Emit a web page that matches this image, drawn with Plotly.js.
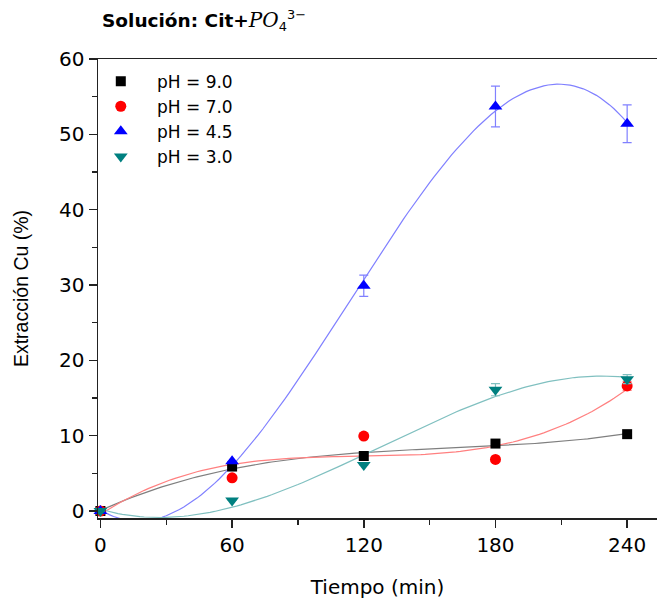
<!DOCTYPE html>
<html>
<head>
<meta charset="utf-8">
<script src="https://cdn.plot.ly/plotly-3.0.1.min.js"></script>
<style>html,body{margin:0;padding:0;background:#fff;}</style>
</head>
<body>
<div id="chart" style="width:657px;height:607px;"></div>
<script>
// Data
const tiempo = [0, 60, 120, 180, 240];
const seriesNames = ["pH = 9.0", "pH = 7.0", "pH = 4.5", "pH = 3.0"];
const ph90 = [0, 5.9, 7.3, 8.95, 10.2];
const ph70 = [0, 4.4, 9.95, 6.85, 16.6];
const ph45 = [0, 6.6, 29.9, 53.7, 51.4];
const ph30 = [0, 1.4, 6.1, 16.1, 17.5];
const err90 = [0, 0, 0, 0, 0];
const err70 = [0, 0, 0, 0, 0.6];
const err45 = [0, 0, 1.4, 2.7, 2.5];
const err30 = [0, 0, 0, 0.8, 0.6];

// least-squares polynomial fit (degree 3) of the data, used for the fitted curves
function polyfit(xs, ys, deg) {
  const n = deg + 1;
  const A = [], b = [];
  for (let i = 0; i < n; i++) { A.push(new Array(n).fill(0)); b.push(0); }
  xs.forEach((x0, k) => {
    const x = x0 / 100;
    for (let i = 0; i < n; i++) {
      for (let j = 0; j < n; j++) A[i][j] += Math.pow(x, i + j);
      b[i] += ys[k] * Math.pow(x, i);
    }
  });
  for (let i = 0; i < n; i++) {
    let p = i;
    for (let r = i + 1; r < n; r++) if (Math.abs(A[r][i]) > Math.abs(A[p][i])) p = r;
    [A[i], A[p]] = [A[p], A[i]]; [b[i], b[p]] = [b[p], b[i]];
    for (let r = i + 1; r < n; r++) {
      const f = A[r][i] / A[i][i];
      for (let c = i; c < n; c++) A[r][c] -= f * A[i][c];
      b[r] -= f * b[i];
    }
  }
  const c = new Array(n).fill(0);
  for (let i = n - 1; i >= 0; i--) {
    let s = b[i];
    for (let j = i + 1; j < n; j++) s -= A[i][j] * c[j];
    c[i] = s / A[i][i];
  }
  return x0 => { const x = x0 / 100; let s = 0; for (let i = 0; i < n; i++) s += c[i] * Math.pow(x, i); return s; };
}

function fitCurve(ys) {
  const f = polyfit(tiempo, ys, 3);
  const xs = [], out = [];
  for (let i = 0; i <= 240; i += 2) { xs.push(i); out.push(f(i)); }
  return { x: xs, y: out };
}

const markerColors = ["#000000", "#ff0000", "#0000ff", "#008080"];
const lineColors = ["#7f7f7f", "#ff8080", "#8080ff", "#80c0c0"];
const symbols = ["square", "circle", "triangle-up", "triangle-down"];
const sizes = [10, 11, 12, 12];
const allY = [ph90, ph70, ph45, ph30];
const allErr = [err90, err70, err45, err30];

const traces = [];
allY.forEach((ys, i) => {
  const c = fitCurve(ys);
  traces.push({
    x: c.x, y: c.y, type: "scatter", mode: "lines",
    line: { color: lineColors[i], width: 1.2 },
    showlegend: false, hoverinfo: "skip"
  });
});
allY.forEach((ys, i) => {
  traces.push({
    x: tiempo, y: ys, type: "scatter", mode: "markers",
    name: "\u00a0\u00a0\u00a0" + seriesNames[i],
    marker: { symbol: symbols[i], color: markerColors[i], size: sizes[i] },
    error_y: { type: "data", array: allErr[i], visible: true, color: lineColors[i], thickness: 1.2, width: 4.5 },
    cliponaxis: false
  });
});

const wide = "DejaVu Sans, Verdana, sans-serif";
const layout = {
  width: 657, height: 607,
  margin: { l: 98, r: 0, t: 59, b: 89 },
  paper_bgcolor: "#ffffff", plot_bgcolor: "#ffffff",
  font: { family: wide, color: "#000" },
  showlegend: true,
  legend: {
    x: 0.005, y: 0.99, xanchor: "left", yanchor: "top",
    font: { size: 17, color: "#000", family: wide }, bgcolor: "rgba(0,0,0,0)", borderwidth: 0
  },
  xaxis: {
    range: [-1.1, 253.6], tickmode: "linear", tick0: 0, dtick: 60,
    ticks: "outside", ticklen: 8, tickwidth: 1.5, tickcolor: "#222",
    minor: { dtick: 30, tick0: 0, ticks: "outside", ticklen: 5, tickwidth: 1.5, tickcolor: "#222" },
    showline: true, linecolor: "#222", linewidth: 1.5, mirror: true,
    showgrid: false, zeroline: false,
    tickfont: { size: 20, family: wide },
    title: { text: "Tiempo (min)", font: { size: 20, family: wide }, standoff: 24 }
  },
  yaxis: {
    range: [-0.93, 60], tickmode: "linear", tick0: 0, dtick: 10,
    ticks: "outside", ticklen: 8, tickwidth: 1.5, tickcolor: "#222",
    minor: { dtick: 5, tick0: 0, ticks: "outside", ticklen: 5, tickwidth: 1.5, tickcolor: "#222" },
    showline: true, linecolor: "#222", linewidth: 1.5,
    showgrid: false, zeroline: false,
    tickfont: { size: 20, family: wide },
    title: { text: "Extracción Cu (%)", font: { size: 19.5, family: "Liberation Sans, Arial, sans-serif" }, standoff: 25 }
  },
  annotations: [{
    xref: "paper", yref: "paper", x: 0.003, y: 1.083, xanchor: "left", yanchor: "middle",
    showarrow: false,
    text: "<b>Solución: Cit+</b><span style=\"font-family:'DejaVu Serif','Liberation Serif',serif;font-style:italic;font-size:20px\">PO</span><sub>4</sub><sup>3\u2212</sup>",
    font: { size: 18.5, color: "#000", family: "DejaVu Sans, sans-serif" }
  }]
};

Plotly.newPlot("chart", traces, layout, { displayModeBar: false, staticPlot: true });
</script>
</body>
</html>
